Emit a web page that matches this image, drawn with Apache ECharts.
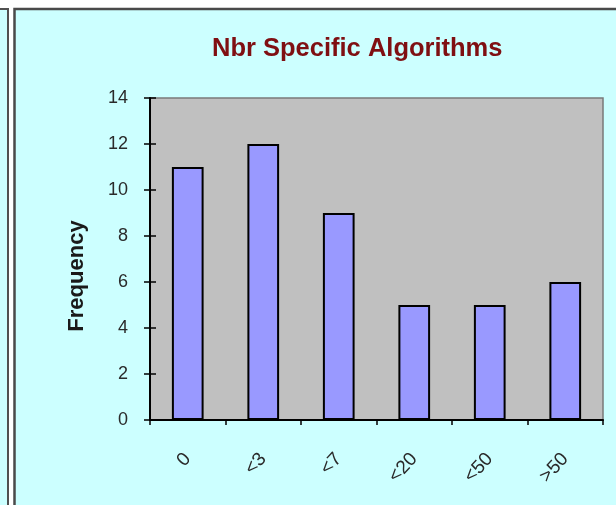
<!DOCTYPE html>
<html>
<head>
<meta charset="utf-8">
<style>
  html, body { margin: 0; padding: 0; background: #ffffff; }
  #chart { width: 616px; height: 505px; }
</style>
<script src="https://cdn.jsdelivr.net/npm/echarts@6/dist/echarts.min.js"></script>
</head>
<body>
<div id="chart"></div>
<script>
// Bucket labels for the number of specific algorithms
const categories = ['0', '<3', '<7', '<20', '<50', '>50'];
// How many cases fall in each bucket
const frequency = [11, 12, 9, 5, 5, 6];
// Value axis range and step
const yMin = 0;
const yMax = 14;
const yStep = 2;

const chart = echarts.init(document.getElementById('chart'), null, { renderer: 'canvas' });

const labelFont = '"Liberation Sans", Arial, sans-serif';

chart.setOption({
  animation: false,
  backgroundColor: '#ffffff',
  graphic: [
    // neighbouring panel edge on the left
    {
      type: 'rect', z: -10,
      shape: { x: -10, y: 9, width: 18, height: 520 },
      style: { fill: '#CCFFFF', stroke: '#505050', lineWidth: 2 }
    },
    // chart panel
    {
      type: 'rect', z: -10,
      shape: { x: 14.5, y: 9, width: 620, height: 520 },
      style: { fill: '#CCFFFF', stroke: '#4a4a4a', lineWidth: 2.5 }
    }
  ],
  title: {
    text: 'Nbr Specific Algorithms',
    left: 212,
    top: 36,
    padding: 0,
    textStyle: {
      fontFamily: labelFont,
      fontSize: 25.5,
      fontWeight: 'bold',
      color: '#7f0f12'
    }
  },
  grid: {
    left: 150, right: 13, top: 98, bottom: 85,
    show: true,
    backgroundColor: '#C0C0C0',
    borderColor: '#7a7a7a',
    borderWidth: 1.5
  },
  xAxis: {
    type: 'category',
    data: categories,
    axisLine: { lineStyle: { color: '#000', width: 2 } },
    axisTick: { show: true, length: 5, lineStyle: { color: '#000', width: 1.5 } },
    axisLabel: {
      rotate: 47,
      margin: 36,
      fontFamily: labelFont,
      fontSize: 19,
      color: '#2a2a2a'
    },
    splitLine: { show: false }
  },
  yAxis: [
    {
      type: 'value',
      min: yMin, max: yMax, interval: yStep,
      name: 'Frequency',
      nameLocation: 'middle',
      nameGap: 62,
      nameTextStyle: {
        fontFamily: labelFont,
        fontSize: 22,
        fontWeight: 'bold',
        color: '#1a1a1a',
        padding: [0, 34, 0, 0]
      },
      axisLine: { show: true, lineStyle: { color: '#000', width: 2 } },
      axisTick: { show: true, length: 6, lineStyle: { color: '#000', width: 1.5 } },
      axisLabel: {
        margin: 22,
        fontFamily: labelFont,
        fontSize: 18,
        color: '#2a2a2a'
      },
      splitLine: { show: false }
    },
    {
      // inner half of the crossing tick marks
      type: 'value',
      position: 'left',
      min: yMin, max: yMax, interval: yStep,
      axisLine: { show: false },
      axisTick: { show: true, inside: true, length: 6, lineStyle: { color: '#000', width: 1.5 } },
      axisLabel: { show: false },
      splitLine: { show: false }
    }
  ],
  series: [
    {
      type: 'bar',
      data: frequency,
      yAxisIndex: 0,
      barWidth: '42%',
      itemStyle: {
        color: '#9999FF',
        borderColor: '#000',
        borderWidth: 2
      }
    }
  ]
});
</script>
</body>
</html>
